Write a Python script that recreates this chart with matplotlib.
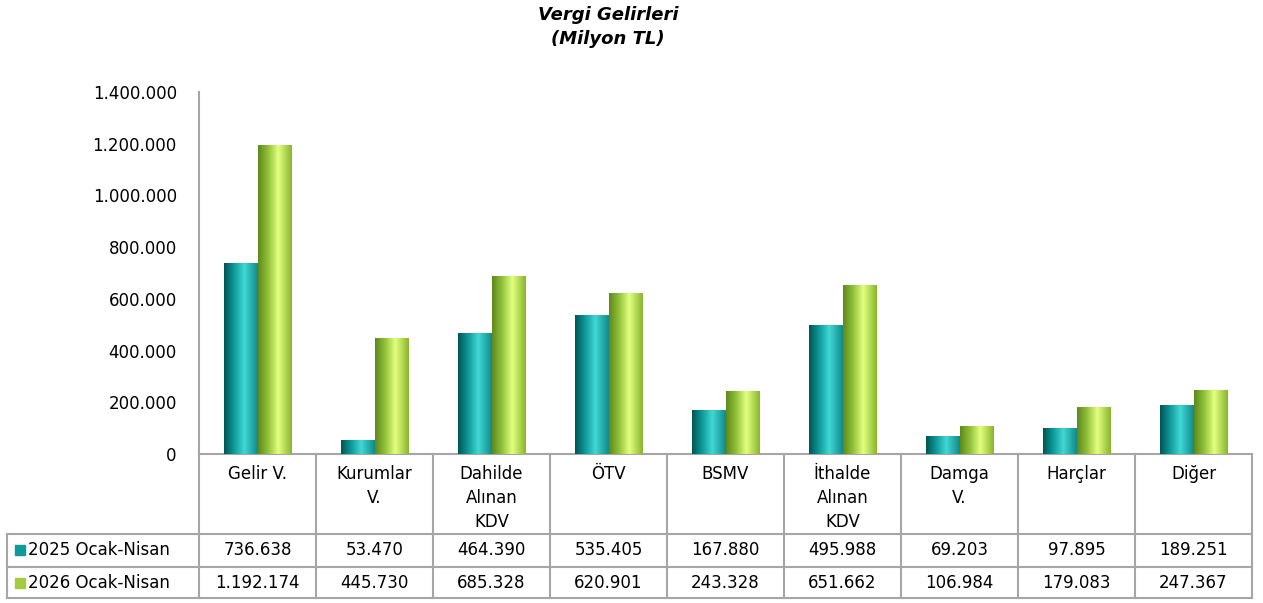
import numpy as np
import matplotlib.pyplot as plt
from matplotlib.colors import LinearSegmentedColormap

categories = ["Gelir V.", "Kurumlar\nV.", "Dahilde\nAlınan\nKDV", "ÖTV", "BSMV",
              "İthalde\nAlınan\nKDV", "Damga\nV.", "Harçlar", "Diğer"]
series_names = ["2025 Ocak-Nisan", "2026 Ocak-Nisan"]
vals_2025 = [736638, 53470, 464390, 535405, 167880, 495988, 69203, 97895, 189251]
vals_2026 = [1192174, 445730, 685328, 620901, 243328, 651662, 106984, 179083, 247367]

def fmt(v):
    return f"{v:,}".replace(",", ".")

plt.rcParams['font.family'] = ['DejaVu Sans']

# cylinder-like shading for the bars
cmap_teal = LinearSegmentedColormap.from_list(
    "teal", [(0, "#005656"), (0.3, "#0f9a9a"), (0.6, "#3fd8d4"), (1, "#128a8a")])
cmap_green = LinearSegmentedColormap.from_list(
    "green", [(0, "#5e8a1c"), (0.3, "#93c23a"), (0.6, "#e2ff80"), (1, "#8ab62e")])
solid = ["#0e9a9a", "#9ccc3c"]

fig = plt.figure(figsize=(12.63, 6.03), dpi=100)
ax = fig.add_axes([199 / 1263, 1 - 454 / 603, 1053 / 1263, 362 / 603])

x = np.arange(len(categories))
w = 0.29
grad = np.linspace(0, 1, 64).reshape(1, -1)
for vals, off, cm, c in [(vals_2025, -w / 2, cmap_teal, solid[0]),
                         (vals_2026, w / 2, cmap_green, solid[1])]:
    bars = ax.bar(x + off, vals, width=w, color=c, zorder=2)
    for b in bars:
        x0, y0 = b.get_x(), b.get_y()
        ax.imshow(grad, cmap=cm, aspect="auto", zorder=3,
                  extent=[x0, x0 + b.get_width(), y0, y0 + b.get_height()])

ax.set_xlim(-0.5, len(categories) - 0.5)
ax.set_ylim(0, 1400000)
ax.set_yticks(np.arange(0, 1400001, 200000))
ax.set_yticklabels([fmt(v) for v in range(0, 1400001, 200000)], fontsize=12)
ax.tick_params(axis="y", length=0, pad=16)
ax.set_xticks([])
for s in ["top", "right"]:
    ax.spines[s].set_visible(False)
for s in ["left", "bottom"]:
    ax.spines[s].set_color("#a6a6a6")
    ax.spines[s].set_linewidth(1.5)

# data table below the axes
tr = ax.get_xaxis_transform()
lc = "#a6a6a6"
y_rows = [0, -0.221, -0.312, -0.398]
x_left = -2.141
n = len(categories)
for i in range(n + 1):
    ax.plot([i - 0.5, i - 0.5], [0, y_rows[-1]], color=lc, lw=1.5, transform=tr, clip_on=False)
ax.plot([x_left, x_left], [y_rows[1], y_rows[-1]], color=lc, lw=1.5, transform=tr, clip_on=False)
for yy in y_rows[1:]:
    ax.plot([x_left, n - 0.5], [yy, yy], color=lc, lw=1.5, transform=tr, clip_on=False)

for i, cat in enumerate(categories):
    ax.text(i, -0.03, cat, ha="center", va="top", fontsize=12, linespacing=1.45,
            transform=tr)
    ax.text(i, (y_rows[1] + y_rows[2]) / 2, fmt(vals_2025[i]), ha="center", va="center",
            fontsize=12, transform=tr)
    ax.text(i, (y_rows[2] + y_rows[3]) / 2, fmt(vals_2026[i]), ha="center", va="center",
            fontsize=12, transform=tr)

for r, name in enumerate(series_names):
    yc = (y_rows[r + 1] + y_rows[r + 2]) / 2
    ax.plot([-2.03], [yc], marker="s", ms=7, color=["#0f9a9a", "#a4cc40"][r],
            transform=tr, clip_on=False)
    ax.text(-1.96, yc, name, ha="left", va="center", fontsize=12, transform=tr)

fig.text(608 / 1263, 1 - 27 / 603, "Vergi Gelirleri\n(Milyon TL)", ha="center", va="center",
         fontsize=13, fontweight="bold", fontstyle="italic", linespacing=1.45)

fig.savefig("out.png", dpi=100)
